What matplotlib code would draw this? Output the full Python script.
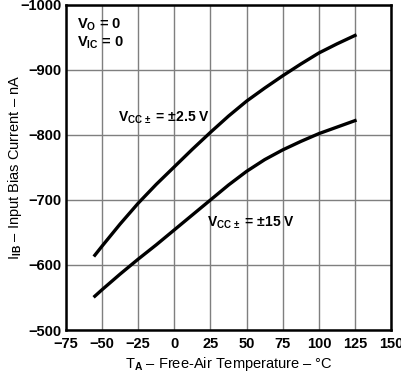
import matplotlib.pyplot as plt

plt.rcParams['font.family'] = 'Liberation Sans'
plt.rcParams['font.weight'] = 'bold'
plt.rcParams['mathtext.fontset'] = 'custom'
plt.rcParams['mathtext.rm'] = 'Liberation Sans:bold'
plt.rcParams['mathtext.it'] = 'Liberation Sans:bold'
plt.rcParams['mathtext.bf'] = 'Liberation Sans:bold'
plt.rcParams['axes.unicode_minus'] = True

# Temperaturas (C)
temp = [-55, -50, -37.5, -25, -12.5, 0, 12.5, 25, 37.5, 50, 62.5, 75, 87.5, 100, 112.5, 125]
# Corriente de polarizacion (nA), VCC = +-2.5 V
ib_25 = [-615, -629, -663, -695, -724, -751, -778, -804, -829, -852, -872, -891, -909, -926, -940, -953]
# Corriente de polarizacion (nA), VCC = +-15 V
ib_15 = [-552, -562, -586, -609, -631, -654, -677, -700, -723, -744, -762, -777, -790, -802, -812, -822]

xticks = [-75, -50, -25, 0, 25, 50, 75, 100, 125, 150]
yticks = [-500, -600, -700, -800, -900, -1000]

fig = plt.figure(figsize=(4.02, 3.75), dpi=100)
ax = fig.add_axes([0.164, 0.12, 0.809, 0.867])

ax.plot(temp, ib_25, color="black", linewidth=2.4)
ax.plot(temp, ib_15, color="black", linewidth=2.4)

ax.set_xlim(-75, 150)
ax.set_ylim(-500, -1000)
ax.set_xticks(xticks)
ax.set_yticks(yticks)
ax.grid(True, color="#7f7f7f", linewidth=1)
ax.tick_params(length=0, labelsize=10.5)
ax.tick_params(axis="y", pad=3)
ax.tick_params(axis="x", pad=5)
for s in ax.spines.values():
    s.set_linewidth(1.8)

ax.set_xlabel(r"T$_\mathrm{A}$ – Free-Air Temperature – °C", fontsize=10.5, labelpad=3)
ax.set_ylabel(r"I$_\mathrm{IB}$ – Input Bias Current – nA", fontsize=10.5)
ax.yaxis.set_label_coords(-0.13, 0.5)

ax.text(-67, -969, r"V$_\mathrm{O}$ = 0", fontsize=10.5, va="center")
ax.text(-67, -941, r"V$_\mathrm{IC}$ = 0", fontsize=10.5, va="center")
ax.text(-39, -826, r"V$_\mathrm{CC\,\pm}$ = ±2.5 V", fontsize=10, va="center")
ax.text(22.5, -665, r"V$_\mathrm{CC\,\pm}$ = ±15 V", fontsize=10, va="center")

fig.savefig("out.png", dpi=100)
